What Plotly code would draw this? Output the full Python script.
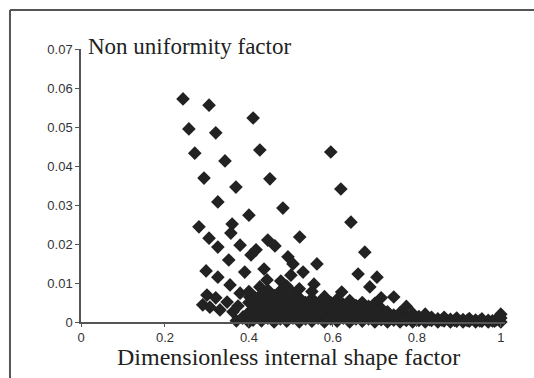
import plotly.graph_objects as go

# Upper / isolated points (dimensionless internal shape factor, non uniformity factor)
upper_x = [0.243, 0.305, 0.410, 0.257, 0.321, 0.426, 0.595, 0.271, 0.343, 0.293,
           0.369, 0.450, 0.619, 0.326, 0.400, 0.481, 0.643, 0.281, 0.360, 0.357,
           0.305, 0.326, 0.379, 0.445, 0.462, 0.521, 0.352, 0.405, 0.417, 0.493,
           0.505, 0.562, 0.676, 0.660, 0.298, 0.326, 0.355, 0.390, 0.436, 0.705,
           0.688, 0.621, 0.555, 0.529, 0.476, 0.500, 0.426, 0.443, 0.379, 0.402,
           0.300, 0.321, 0.348, 0.374, 0.290, 0.307, 0.331, 0.362, 0.386, 0.410]
upper_y = [0.0572, 0.0556, 0.0523, 0.0495, 0.0485, 0.0441, 0.0436, 0.0433, 0.0413, 0.0369,
           0.0346, 0.0367, 0.0341, 0.0308, 0.0274, 0.0292, 0.0256, 0.0244, 0.0251, 0.0228,
           0.0215, 0.0192, 0.0197, 0.0210, 0.0195, 0.0218, 0.0159, 0.0172, 0.0185, 0.0167,
           0.0149, 0.0149, 0.0179, 0.0123, 0.0131, 0.0115, 0.0095, 0.0128, 0.0136, 0.0115,
           0.0090, 0.0077, 0.0097, 0.0128, 0.0105, 0.0120, 0.0090, 0.0108, 0.0074, 0.0064,
           0.0069, 0.0062, 0.0051, 0.0041, 0.0044, 0.0038, 0.0031, 0.0026, 0.0013, 0.0005]

# Dense band near the x axis
band_x = [0.370, 0.385, 0.400, 0.400, 0.400, 0.400, 0.415, 0.415, 0.415,
          0.430, 0.430, 0.430, 0.430, 0.445, 0.445, 0.445, 0.445,
          0.460, 0.460, 0.460, 0.460, 0.475, 0.475, 0.475, 0.475,
          0.490, 0.490, 0.490, 0.490, 0.490, 0.505, 0.505, 0.505, 0.505,
          0.520, 0.520, 0.520, 0.520, 0.520, 0.535, 0.535, 0.535,
          0.550, 0.550, 0.550, 0.550, 0.550, 0.565, 0.565, 0.565,
          0.580, 0.580, 0.580, 0.580, 0.595, 0.595, 0.595,
          0.610, 0.610, 0.610, 0.610, 0.625, 0.625, 0.625,
          0.640, 0.640, 0.640, 0.640, 0.655, 0.655, 0.655,
          0.670, 0.670, 0.670, 0.670, 0.685, 0.685, 0.685,
          0.700, 0.700, 0.700, 0.700, 0.715, 0.715, 0.715, 0.715,
          0.730, 0.730, 0.730, 0.745, 0.745, 0.745,
          0.760, 0.760, 0.760, 0.775, 0.775, 0.775,
          0.790, 0.790, 0.790, 0.805, 0.805, 0.820, 0.820, 0.820,
          0.835, 0.835, 0.850, 0.850, 0.865, 0.865, 0.880, 0.880,
          0.895, 0.895, 0.910, 0.910, 0.925, 0.925, 0.940, 0.940,
          0.955, 0.955, 0.970, 0.970, 0.985, 1.000, 1.000, 1.000,
          0.560, 0.590, 0.620, 0.650, 0.680, 0.710, 0.740, 0.770,
          0.800, 0.830, 0.860, 0.890, 0.920, 0.950, 0.980, 0.990]
band_y = [0.0003, 0.0010, 0.0000, 0.0025, 0.0050, 0.0078, 0.0012, 0.0038, 0.0062,
          0.0003, 0.0022, 0.0048, 0.0072, 0.0010, 0.0035, 0.0058, 0.0082,
          0.0000, 0.0020, 0.0045, 0.0068, 0.0008, 0.0030, 0.0055, 0.0080,
          0.0002, 0.0018, 0.0042, 0.0065, 0.0092, 0.0010, 0.0028, 0.0052, 0.0075,
          0.0000, 0.0020, 0.0040, 0.0062, 0.0085, 0.0008, 0.0030, 0.0050,
          0.0002, 0.0018, 0.0038, 0.0060, 0.0078, 0.0010, 0.0028, 0.0048,
          0.0000, 0.0020, 0.0040, 0.0065, 0.0008, 0.0030, 0.0050,
          0.0002, 0.0018, 0.0038, 0.0058, 0.0010, 0.0026, 0.0045,
          0.0000, 0.0018, 0.0035, 0.0055, 0.0008, 0.0025, 0.0042,
          0.0002, 0.0015, 0.0032, 0.0050, 0.0008, 0.0022, 0.0040,
          0.0000, 0.0015, 0.0030, 0.0048, 0.0006, 0.0020, 0.0035, 0.0062,
          0.0000, 0.0012, 0.0026, 0.0005, 0.0018, 0.0064,
          0.0000, 0.0010, 0.0024, 0.0004, 0.0016, 0.0040,
          0.0000, 0.0010, 0.0022, 0.0004, 0.0014, 0.0000, 0.0010, 0.0020,
          0.0004, 0.0012, 0.0000, 0.0008, 0.0003, 0.0012, 0.0000, 0.0007,
          0.0002, 0.0010, 0.0000, 0.0006, 0.0002, 0.0009, 0.0000, 0.0005,
          0.0002, 0.0008, 0.0000, 0.0004, 0.0002, 0.0000, 0.0010, 0.0020,
          0.0015, 0.0012, 0.0014, 0.0011, 0.0012, 0.0010, 0.0009, 0.0008,
          0.0007, 0.0006, 0.0005, 0.0004, 0.0004, 0.0003, 0.0003, 0.0006]

x_ticks = [0, 0.2, 0.4, 0.6, 0.8, 1]
x_tick_labels = ["0", "0.2", "0.4", "0.6", "0.8", "1"]
y_ticks = [0, 0.01, 0.02, 0.03, 0.04, 0.05, 0.06, 0.07]
y_tick_labels = ["0", "0.01", "0.02", "0.03", "0.04", "0.05", "0.06", "0.07"]

fig = go.Figure()
fig.add_trace(go.Scatter(
    x=upper_x + band_x, y=upper_y + band_y, mode="markers",
    marker=dict(symbol="diamond", size=10.5, color="#222222", line=dict(width=0)),
    cliponaxis=False, showlegend=False, hoverinfo="skip"))

fig.update_layout(
    width=534, height=378,
    margin=dict(l=81, r=29, t=49, b=56),
    paper_bgcolor="white", plot_bgcolor="white",
    xaxis=dict(range=[0, 1.01], tickvals=x_ticks, ticktext=x_tick_labels,
               showgrid=False, zeroline=False, showline=True, linecolor="#555555",
               linewidth=1.5, ticks="outside", ticklen=3, tickcolor="#555555",
               tickfont=dict(family="Liberation Sans", size=13, color="#333333")),
    yaxis=dict(range=[0, 0.07], tickvals=y_ticks, ticktext=y_tick_labels,
               showgrid=False, zeroline=False, showline=True, linecolor="#555555",
               linewidth=1.5, ticks="outside", ticklen=4, tickcolor="#555555",
               tickfont=dict(family="Liberation Sans", size=13, color="#333333")),
    annotations=[
        dict(text="Non uniformity factor", xref="paper", yref="paper",
             x=0.012, y=1.01, xanchor="left", yanchor="middle", showarrow=False,
             font=dict(family="Liberation Serif", size=23, color="#222222")),
        dict(text="Dimensionless internal shape factor", xref="paper", yref="paper",
             x=0.49, y=-0.075, xanchor="center", yanchor="top", showarrow=False,
             font=dict(family="Liberation Serif", size=24, color="#222222")),
    ],
    shapes=[
        dict(type="line", xref="paper", yref="paper", x0=-0.1675, x1=1.07,
             y0=1.143, y1=1.143, line=dict(color="#555555", width=2)),
        dict(type="line", xref="paper", yref="paper", x0=-0.1675, x1=-0.1675,
             y0=1.143, y1=-0.21, line=dict(color="#555555", width=2)),
    ],
)

fig.write_html("out.html")
